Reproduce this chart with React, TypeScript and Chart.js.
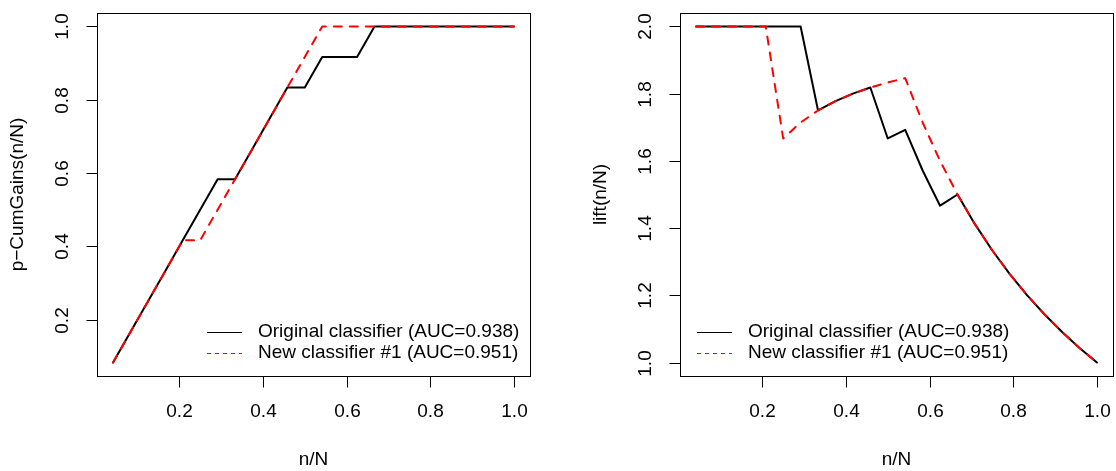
import { useEffect, useRef } from "react";
import { Chart, registerables } from "chart.js";
Chart.register(...registerables);

const nN = [0.0417, 0.0833, 0.125, 0.1667, 0.2083, 0.25, 0.2917, 0.3333, 0.375, 0.4167, 0.4583, 0.5, 0.5417, 0.5833, 0.625, 0.6667, 0.7083, 0.75, 0.7917, 0.8333, 0.875, 0.9167, 0.9583, 1.0];
const gainsOriginal = [0.0833, 0.1667, 0.25, 0.3333, 0.4167, 0.5, 0.5833, 0.5833, 0.6667, 0.75, 0.8333, 0.8333, 0.9167, 0.9167, 0.9167, 1, 1, 1, 1, 1, 1, 1, 1, 1];
const gainsNew = [0.0833, 0.1667, 0.25, 0.3333, 0.4167, 0.4167, 0.5, 0.5833, 0.6667, 0.75, 0.8333, 0.9167, 1, 1, 1, 1, 1, 1, 1, 1, 1, 1, 1, 1];
const liftOriginal = [2, 2, 2, 2, 2, 2, 2, 1.75, 1.7778, 1.8, 1.8182, 1.6667, 1.6923, 1.5714, 1.4667, 1.5, 1.4118, 1.3333, 1.2632, 1.2, 1.1429, 1.0909, 1.0435, 1.0];
const liftNew = [2, 2, 2, 2, 2, 1.6667, 1.7143, 1.75, 1.7778, 1.8, 1.8182, 1.8333, 1.8462, 1.7143, 1.6, 1.5, 1.4118, 1.3333, 1.2632, 1.2, 1.1429, 1.0909, 1.0435, 1.0];

const xTicks = [0.2, 0.4, 0.6, 0.8, 1.0];
const gainsTicks = [0.2, 0.4, 0.6, 0.8, 1.0];
const liftTicks = [1.0, 1.2, 1.4, 1.6, 1.8, 2.0];
const legendLabels = ["Original classifier (AUC=0.938)", "New classifier #1 (AUC=0.951)"];
const xTitle = "n/N";
const gainsTitle = "p\u2212CumGains(n/N)";
const liftTitle = "lift(n/N)";

const FONT = '19px "Liberation Sans", Arial, sans-serif';

type Panel = {
  yTitle: string;
  orig: number[];
  neu: number[];
  yTicks: number[];
  yMin: number;
  yMax: number;
  legendOffset: number;
  canvasLeft: number;
  padding: { left: number; right: number; top: number; bottom: number };
};

function makePlugin(p: Panel) {
  return {
    id: "rAxes",
    afterDraw(chart: any) {
      const { ctx, chartArea: a, scales } = chart;
      const xs = scales.x;
      const ys = scales.y;
      ctx.save();
      ctx.strokeStyle = "#000";
      ctx.lineWidth = 1;
      ctx.setLineDash([]);
      const L = Math.round(a.left) + 0.5;
      const T = Math.round(a.top) + 0.5;
      const R = Math.round(a.right) + 0.5;
      const B = Math.round(a.bottom) + 0.5;
      ctx.strokeRect(L, T, R - L, B - T);
      ctx.font = FONT;
      ctx.fillStyle = "#000";
      ctx.textAlign = "center";
      ctx.textBaseline = "middle";
      for (const t of xTicks) {
        const px = Math.round(xs.getPixelForValue(t)) + 0.5;
        ctx.beginPath();
        ctx.moveTo(px, B);
        ctx.lineTo(px, B + 11);
        ctx.stroke();
        ctx.fillText(t.toFixed(1), px, a.bottom + 36);
      }
      for (const t of p.yTicks) {
        const py = Math.round(ys.getPixelForValue(t)) + 0.5;
        ctx.beginPath();
        ctx.moveTo(L - 11, py);
        ctx.lineTo(L, py);
        ctx.stroke();
        ctx.save();
        ctx.translate(a.left - 34, py);
        ctx.rotate(-Math.PI / 2);
        ctx.fillText(t.toFixed(1), 0, 0);
        ctx.restore();
      }
      // titles
      ctx.fillText(xTitle, (a.left + a.right) / 2, a.bottom + 84);
      ctx.save();
      ctx.translate(a.left - 79, (a.top + a.bottom) / 2);
      ctx.rotate(-Math.PI / 2);
      ctx.fillText(p.yTitle, 0, 0);
      ctx.restore();
      // legend
      const lx0 = a.left + p.legendOffset;
      const rows = [a.bottom - 44, a.bottom - 23];
      ctx.textAlign = "left";
      for (let i = 0; i < 2; i++) {
        const y = Math.round(rows[i]) + 0.5;
        ctx.beginPath();
        ctx.lineWidth = 1;
        if (i === 0) {
          ctx.strokeStyle = "#000";
          ctx.setLineDash([]);
        } else {
          ctx.strokeStyle = "#ff0000";
          ctx.setLineDash([4, 4]);
        }
        ctx.moveTo(lx0, y);
        ctx.lineTo(lx0 + 35, y);
        ctx.stroke();
        ctx.setLineDash([]);
        ctx.fillText(legendLabels[i], lx0 + 51, rows[i]);
      }
      ctx.restore();
    },
  };
}

function PanelChart({ p }: { p: Panel }) {
  const ref = useRef<HTMLCanvasElement | null>(null);
  useEffect(() => {
    if (!ref.current) return;
    const xmin = nN[0] - 0.04 * (nN[nN.length - 1] - nN[0]);
    const xmax = nN[nN.length - 1] + 0.04 * (nN[nN.length - 1] - nN[0]);
    const chart = new Chart(ref.current, {
      type: "line",
      data: {
        datasets: [
          {
            data: nN.map((x, i) => ({ x, y: p.neu[i] })),
            borderColor: "#ff0000",
            borderWidth: 2,
            borderDash: [8, 8],
            borderCapStyle: "round",
            borderJoinStyle: "round",
            pointRadius: 0,
            tension: 0,
            fill: false,
          },
          {
            data: nN.map((x, i) => ({ x, y: p.orig[i] })),
            borderColor: "#000000",
            borderWidth: 2,
            borderCapStyle: "round",
            borderJoinStyle: "round",
            pointRadius: 0,
            tension: 0,
            fill: false,
          },
        ],
      },
      options: {
        animation: false,
        responsive: false,
        devicePixelRatio: 1,
        layout: { padding: p.padding },
        plugins: { legend: { display: false }, tooltip: { enabled: false }, title: { display: false } },
        events: [],
        scales: {
          x: { type: "linear", min: xmin, max: xmax, display: false },
          y: { type: "linear", min: p.yMin, max: p.yMax, display: false },
        },
      },
      plugins: [makePlugin(p)],
    } as any);
    return () => chart.destroy();
  }, [p]);
  return (
    <canvas
      ref={ref}
      width={558}
      height={471}
      style={{ position: "absolute", left: p.canvasLeft, top: 0, width: 558, height: 471 }}
    />
  );
}

const leftPanel: Panel = {
  yTitle: gainsTitle,
  orig: gainsOriginal,
  neu: gainsNew,
  yTicks: gainsTicks,
  yMin: 0.0833 - 0.04 * (1 - 0.0833),
  yMax: 1 + 0.04 * (1 - 0.0833),
  legendOffset: 110,
  canvasLeft: 0,
  padding: { left: 97, right: 28, top: 13, bottom: 95 },
};

const rightPanel: Panel = {
  yTitle: liftTitle,
  orig: liftOriginal,
  neu: liftNew,
  yTicks: liftTicks,
  yMin: 1 - 0.04,
  yMax: 2 + 0.04,
  legendOffset: 17,
  canvasLeft: 558,
  padding: { left: 122, right: 3, top: 13, bottom: 95 },
};

export default function App() {
  return (
    <div style={{ position: "fixed", left: 0, top: 0, width: 1116, height: 471, background: "#fff", overflow: "hidden" }}>
      <PanelChart p={leftPanel} />
      <PanelChart p={rightPanel} />
    </div>
  );
}
